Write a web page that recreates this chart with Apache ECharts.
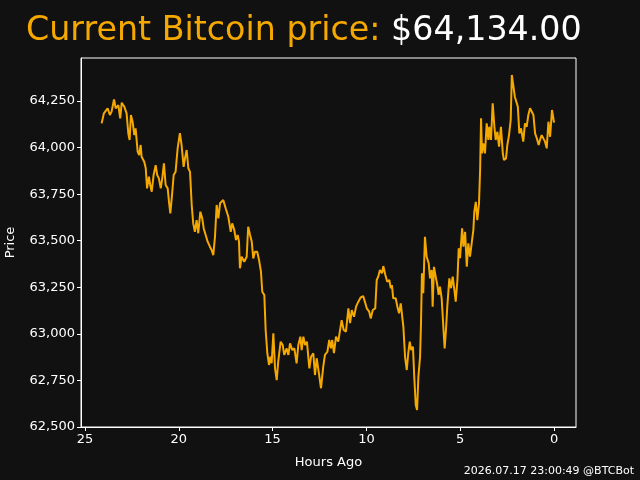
<!DOCTYPE html>
<html>
<head>
<meta charset="utf-8">
<script src="https://cdn.jsdelivr.net/npm/echarts@6/dist/echarts.min.js"></script>
<style>
  html, body { margin: 0; padding: 0; background: #111111; }
  #chart { width: 640px; height: 480px; }
</style>
</head>
<body>
<div id="chart"></div>
<script>
const hoursAgo = [
  24.11, 23.99, 23.79, 23.67, 23.58, 23.45, 23.36, 23.22, 23.12, 23.04,
  22.90, 22.78, 22.69, 22.62, 22.55, 22.46, 22.37, 22.30, 22.19, 22.11,
  22.03, 21.98, 21.84, 21.76, 21.69, 21.59, 21.52, 21.44, 21.34, 21.23,
  21.15, 21.06, 20.96, 20.88, 20.79, 20.70, 20.59, 20.52, 20.45, 20.36,
  20.27, 20.17, 20.06, 19.94, 19.85, 19.74, 19.67, 19.58, 19.49, 19.40,
  19.31, 19.23, 19.14, 19.05, 18.96, 18.85, 18.75, 18.67, 18.57, 18.46,
  18.34, 18.25, 18.16, 18.07, 17.98, 17.89, 17.80, 17.63, 17.50, 17.36,
  17.23, 17.15, 17.04, 16.95, 16.86, 16.79, 16.74, 16.65, 16.51, 16.38,
  16.30, 16.20, 16.11, 16.03, 15.94, 15.82, 15.72, 15.62, 15.55, 15.44,
  15.37, 15.28, 15.19, 15.12, 15.05, 14.96, 14.87, 14.78, 14.70, 14.57,
  14.46, 14.38, 14.25, 14.16, 14.07, 13.95, 13.84, 13.72, 13.63, 13.52,
  13.45, 13.36, 13.27, 13.17, 13.04, 12.95, 12.83, 12.74, 12.65, 12.53,
  12.42, 12.30, 12.21, 12.08, 11.98, 11.89, 11.82, 11.73, 11.62, 11.50,
  11.41, 11.32, 11.21, 11.09, 10.96, 10.87, 10.78, 10.66, 10.55, 10.43,
  10.30, 10.17, 10.07, 9.98, 9.85, 9.77, 9.66, 9.53, 9.45, 9.37,
  9.28, 9.17, 9.10, 8.99, 8.89, 8.78, 8.70, 8.64, 8.57, 8.44,
  8.35, 8.26, 8.17, 8.12, 8.03, 7.94, 7.85, 7.77, 7.69, 7.61,
  7.52, 7.45, 7.37, 7.30, 7.23, 7.14, 7.09, 7.04, 6.97, 6.88,
  6.79, 6.68, 6.61, 6.52, 6.47, 6.40, 6.29, 6.22, 6.15, 6.08,
  5.99, 5.90, 5.83, 5.76, 5.69, 5.58, 5.49, 5.40, 5.31, 5.24,
  5.15, 5.08, 5.01, 4.90, 4.83, 4.74, 4.65, 4.57, 4.48, 4.39,
  4.30, 4.25, 4.17, 4.09, 4.00, 3.94, 3.89, 3.84, 3.77, 3.68,
  3.59, 3.50, 3.45, 3.36, 3.27, 3.18, 3.11, 3.02, 2.93, 2.83,
  2.73, 2.67, 2.56, 2.49, 2.40, 2.31, 2.25, 2.17, 2.09, 2.01,
  1.93, 1.85, 1.76, 1.64, 1.55, 1.46, 1.37, 1.28, 1.19, 1.10,
  1.01, 0.92, 0.82, 0.75, 0.66, 0.57, 0.48, 0.39, 0.30, 0.21,
  0.11, 0.00
];

const prices = [
  64130, 64184, 64211, 64175, 64193, 64259, 64211, 64228, 64157, 64241,
  64219, 64184, 64077, 64041, 64175, 64139, 64067, 64103, 63978, 63960,
  64014, 63951, 63924, 63889, 63781, 63844, 63799, 63763, 63853, 63906,
  63853, 63835, 63781, 63835, 63916, 63799, 63781, 63709, 63647, 63745,
  63853, 63870, 63996, 64077, 64014, 63897, 63942, 63987, 63889, 63870,
  63692, 63593, 63548, 63611, 63540, 63656, 63620, 63566, 63575, 63495,
  63468, 63450, 63423, 63521, 63692, 63620, 63701, 63719, 63674, 63629,
  63548, 63593, 63557, 63504, 63531, 63495, 63352, 63414, 63387, 63414,
  63575, 63531, 63495, 63405, 63441, 63441, 63396, 63334, 63226, 63208,
  63021, 62896, 62833, 62877, 62842, 63003, 62815, 62752, 62851, 62958,
  62940, 62887, 62922, 62887, 62949, 62913, 62922, 62842, 62940, 62985,
  62913, 62985, 62940, 62958, 62815, 62877, 62896, 62779, 62869, 62788,
  62708, 62824, 62887, 62904, 62967, 62922, 62967, 62896, 62985, 62958,
  62967, 63074, 63021, 63012, 63137, 63057, 63128, 63092, 63146, 63173,
  63196, 63203, 63209, 63137, 63119, 63083, 63128, 63137, 63289, 63307,
  63343, 63325, 63364, 63316, 63280, 63289, 63245, 63262, 63191, 63191,
  63146, 63110, 63164, 63173, 63038, 62877, 62806, 62896, 62958, 62913,
  62931, 62770, 62618, 62591, 62770, 62877, 63057, 63325, 63218, 63521,
  63414, 63379, 63298, 63343, 63146, 63360, 63298, 63262, 63209, 63253,
  63191, 63038, 62922, 63021, 63146, 63298, 63245, 63307, 63235, 63173,
  63289, 63459, 63406, 63566, 63468, 63548, 63360, 63486, 63414, 63486,
  63557, 63656, 63709, 63611, 63701, 63880, 64157, 63969, 64023, 63969,
  64130, 64041, 64112, 64041, 64238, 64112, 64041, 64085, 64005, 64112,
  63969, 63933, 63942, 64014, 64067, 64148, 64390, 64381, 64273, 64264,
  64219, 64076, 64103, 64032, 64130, 64112, 64175, 64211, 64211, 64175,
  64076, 64050, 64014, 64041, 64067, 64076, 64032, 63996, 64139, 64058,
  64202, 64134
];

const xTicks = [0, 5, 10, 15, 20, 25];
const yTicks = [62500, 62750, 63000, 63250, 63500, 63750, 64000, 64250];
const currentPrice = '$64,134.00';
const stamp = '2026.07.17 23:00:49 @BTCBot';

const ORANGE = '#f5a800';
const FONT = 'DejaVu Sans';

const chart = echarts.init(document.getElementById('chart'), null, { renderer: 'canvas' });

chart.setOption({
  backgroundColor: '#111111',
  animation: false,
  textStyle: { fontFamily: FONT },
  title: [
    {
      text: '{a|Current Bitcoin price: }{b|' + currentPrice + '}',
      left: 26,
      top: 15,
      padding: 0,
      textStyle: {
        rich: {
          a: { color: ORANGE, fontSize: 33.3, fontWeight: 'normal', fontFamily: FONT },
          b: { color: '#ffffff', fontSize: 33.3, fontWeight: 'normal', fontFamily: FONT }
        }
      }
    },
    {
      text: stamp,
      right: 6,
      bottom: 3,
      padding: 0,
      textStyle: { color: '#ffffff', fontSize: 11, fontWeight: 'normal', fontFamily: FONT }
    }
  ],
  grid: {
    left: 81,
    right: 64,
    top: 58,
    bottom: 53,
    outerBoundsMode: 'none',
    containLabel: false,
    show: true,
    borderColor: '#ffffff',
    borderWidth: 1
  },
  xAxis: {
    type: 'value',
    inverse: true,
    min: -1.17,
    max: 25.21,
    name: 'Hours Ago',
    nameLocation: 'middle',
    nameGap: 29,
    nameTextStyle: { color: '#ffffff', fontSize: 13, fontFamily: FONT },
    axisLine: { show: true, onZero: false, lineStyle: { color: '#ffffff', width: 1 } },
    axisTick: { show: true, length: 4, customValues: xTicks, lineStyle: { color: '#ffffff' } },
    axisLabel: { color: '#ffffff', fontSize: 13, margin: 6, customValues: xTicks, fontFamily: FONT },
    splitLine: { show: false }
  },
  yAxis: {
    type: 'value',
    min: 62500,
    max: 64481,
    name: 'Price',
    nameLocation: 'middle',
    nameGap: 64,
    nameTextStyle: { color: '#ffffff', fontSize: 13, fontFamily: FONT },
    axisLine: { show: true, onZero: false, lineStyle: { color: '#ffffff', width: 1 } },
    axisTick: { show: true, length: 4, customValues: yTicks, lineStyle: { color: '#ffffff' } },
    axisLabel: {
      color: '#ffffff',
      fontSize: 13,
      margin: 6,
      customValues: yTicks,
      fontFamily: FONT,
      formatter: v => v.toLocaleString('en-US')
    },
    splitLine: { show: false }
  },
  series: [
    {
      type: 'line',
      data: hoursAgo.map((h, i) => [h, prices[i]]),
      showSymbol: false,
      lineStyle: { color: ORANGE, width: 2 },
      itemStyle: { color: ORANGE }
    }
  ]
});
</script>
</body>
</html>
